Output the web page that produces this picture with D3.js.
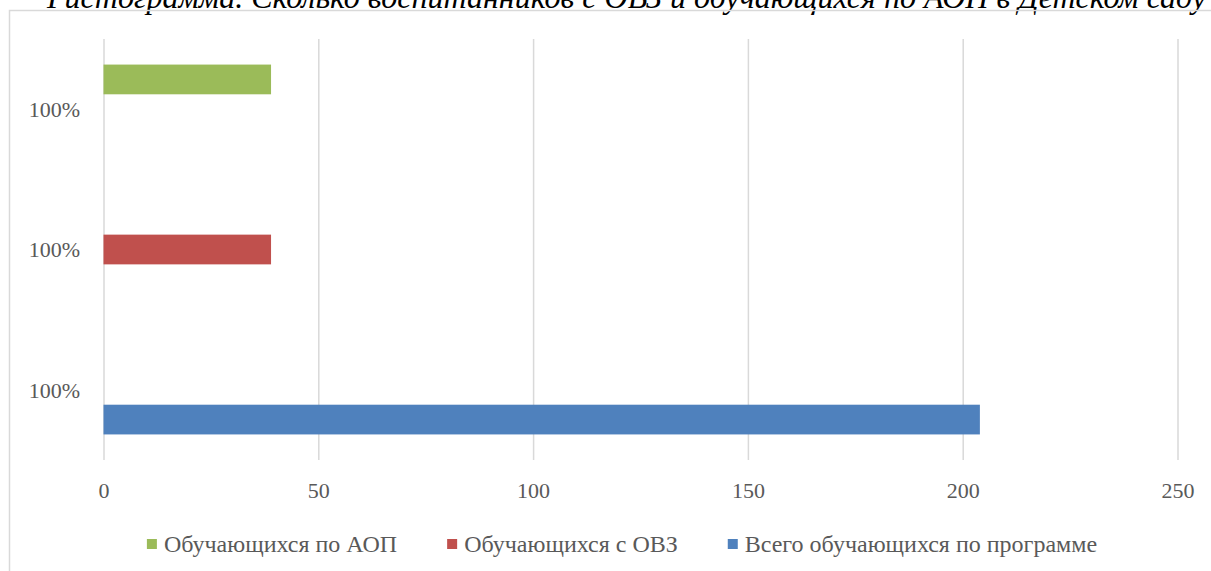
<!DOCTYPE html>
<html>
<head>
<meta charset="utf-8">
<script src="https://cdn.jsdelivr.net/npm/d3@7"></script>
<style>
  body { margin: 0; background: #fff; }
  text { font-family: "Liberation Serif", "Times New Roman", serif; fill: #595959; }
</style>
</head>
<body>
<div id="chart-area"></div>
<script>
// data
var categories = ["100%", "100%", "100%"];
var seriesNames = ["Всего обучающихся по программе", "Обучающихся с ОВЗ", "Обучающихся по АОП"];
var totalValues = [204, null, null];
var ovzValues = [null, 39, null];
var aopValues = [null, null, 39];
var xTicks = [0, 50, 100, 150, 200, 250];
var colors = ["#4F81BD", "#C0504D", "#9BBB59"];

var W = 1211, H = 571;
var plot = { left: 103.5, right: 1177.5, top: 39, bottom: 460 };

var svg = d3.select("#chart-area").append("svg")
  .attr("width", W)
  .attr("height", H);

// title, cut off at the top of the picture like in the original
svg.append("text")
  .attr("x", 47)
  .attr("y", 8)
  .attr("font-size", "32px")
  .attr("font-style", "italic")
  .style("fill", "#000")
  .text("Гистограмма. Сколько воспитанников с ОВЗ и обучающихся по АОП в Детском саду");

// chart frame
svg.append("rect")
  .attr("x", 9.5)
  .attr("y", 10.5)
  .attr("width", W)
  .attr("height", H)
  .attr("fill", "none")
  .attr("stroke", "#D9D9D9")
  .attr("stroke-width", 1.5);

var x = d3.scaleLinear().domain([0, 250]).range([plot.left, plot.right]);

var y = d3.scaleBand()
  .domain(d3.range(categories.length))
  .range([plot.bottom, plot.top]);

var ySeries = d3.scaleBand()
  .domain(d3.range(seriesNames.length))
  .range([y.bandwidth(), 0])
  .paddingOuter(0.86);

// grid + x axis
var xAxisGroup = svg.append("g")
  .attr("transform", "translate(0," + plot.bottom + ")")
  .call(d3.axisBottom(x).tickValues(xTicks).tickSize(-(plot.bottom - plot.top)).tickPadding(22));

xAxisGroup.attr("font-family", null);
xAxisGroup.select(".domain").remove();
xAxisGroup.selectAll("line").attr("stroke", "#D9D9D9").attr("stroke-width", 1.5);
xAxisGroup.selectAll("text")
  .attr("font-size", "22px")
  .style("fill", "#595959");

// y labels
var yAxisGroup = svg.append("g")
  .attr("transform", "translate(" + 80 + ",0)")
  .call(d3.axisLeft(y).tickSize(0).tickPadding(0).tickFormat(function (i) { return categories[i]; }));

yAxisGroup.attr("font-family", null);
yAxisGroup.select(".domain").remove();
yAxisGroup.selectAll("text")
  .attr("font-size", "22px")
  .attr("dy", "0.35em")
  .style("fill", "#595959");

// bars
var seriesData = [totalValues, ovzValues, aopValues];

seriesData.forEach(function (values, s) {
  svg.append("g").selectAll("rect")
    .data(values.map(function (v, i) { return { cat: i, value: v }; }).filter(function (d) { return d.value != null; }))
    .enter().append("rect")
    .attr("x", x(0))
    .attr("y", function (d) { return y(d.cat) + ySeries(s); })
    .attr("width", function (d) { return x(d.value) - x(0); })
    .attr("height", ySeries.bandwidth())
    .attr("fill", colors[s]);
});

// legend (reverse order, as in the picture)
var legendOrder = [2, 1, 0];
var legend = svg.append("g");
var lx = 0;
legendOrder.forEach(function (s) {
  var item = legend.append("g").attr("transform", "translate(" + lx + ",0)");
  item.append("rect")
    .attr("x", 0).attr("y", -5)
    .attr("width", 10).attr("height", 10)
    .attr("fill", colors[s]);
  var t = item.append("text")
    .attr("x", 17)
    .attr("dy", "0.35em")
    .attr("font-size", "24px")
    .text(seriesNames[s]);
  lx += 17 + t.node().getComputedTextLength() + 50;
});
var legendWidth = lx - 50;
legend.attr("transform", "translate(" + (622 - legendWidth / 2) + ",544)");
</script>
</body>
</html>
